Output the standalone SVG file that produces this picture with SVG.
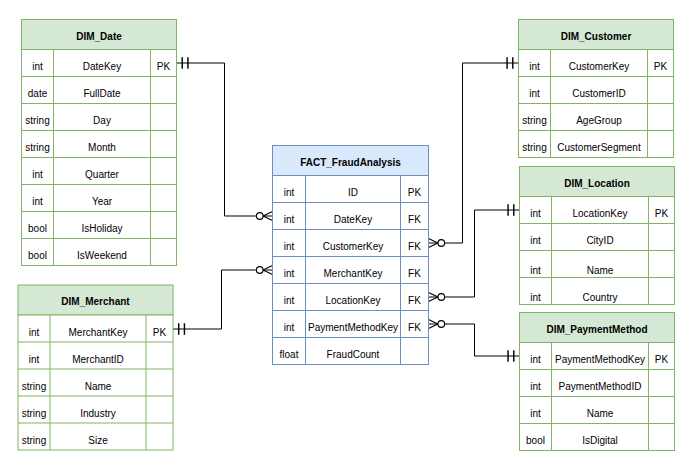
<svg xmlns="http://www.w3.org/2000/svg" width="692" height="469" viewBox="0 0 692 469">
<style>
text{font-family:"Liberation Sans",Arial,Helvetica,sans-serif;font-size:10px;fill:#000;text-anchor:middle}
.h{font-weight:bold}
.gh{fill:#d5e8d4;stroke:#82b366;stroke-width:1}
.gc{fill:#fff;stroke:#82b366;stroke-width:1}
.bh{fill:#dae8fc;stroke:#6c8ebf;stroke-width:1}
.bc{fill:#fff;stroke:#6c8ebf;stroke-width:1}
.gl{stroke:#82b366;stroke-width:1;fill:none}
.bl{stroke:#6c8ebf;stroke-width:1;fill:none}
.edge{fill:none;stroke:#000;stroke-width:1}
</style>
<defs>
<marker id="one" markerUnits="userSpaceOnUse" markerWidth="20" markerHeight="20" refX="0" refY="0" viewBox="-12 -6 14 12" orient="auto-start-reverse" overflow="visible">
<path d="M-4,-4V4M-8,-4V4" stroke="#000" stroke-width="1" fill="none"/>
</marker>
<marker id="many" markerUnits="userSpaceOnUse" markerWidth="20" markerHeight="20" refX="0" refY="0" viewBox="-16 -6 18 12" orient="auto" overflow="visible">
<path d="M0,-4L-8.5,0L0,4" stroke="#000" stroke-width="1" fill="none"/>
<circle cx="-11.5" cy="0" r="3" fill="#fff" stroke="#000" stroke-width="1"/>
</marker>
</defs>

<g id="connectors">
<path class="edge" d="M176.5,63H224.5V216H272.5" marker-start="url(#one)" marker-end="url(#many)"/>
<path class="edge" d="M173,329H221.5V270H272.5" marker-start="url(#one)" marker-end="url(#many)"/>
<path class="edge" d="M518.5,63H462.5V243H428.5" marker-start="url(#one)" marker-end="url(#many)"/>
<path class="edge" d="M519.5,210H474.5V297H428.5" marker-start="url(#one)" marker-end="url(#many)"/>
<path class="edge" d="M519.5,356H474.5V324H428.5" marker-start="url(#one)" marker-end="url(#many)"/>
</g>

<g id="DIM_Date">
<rect class="gh" x="21.5" y="19.5" width="155" height="30"/>
<rect class="gc" x="21.5" y="49.5" width="155" height="216"/>
<path class="gl" d="M21.5,76.5H176.5M21.5,103.5H176.5M21.5,130.5H176.5M21.5,157.5H176.5M21.5,184.5H176.5M21.5,211.5H176.5M21.5,238.5H176.5M53.5,49.5V265.5M150.5,49.5V265.5"/>
<text class="h" x="99" y="39.5">DIM_Date</text>
<text x="37.5" y="70">int</text><text x="102" y="70">DateKey</text><text x="163.5" y="70">PK</text>
<text x="37.5" y="97">date</text><text x="102" y="97">FullDate</text>
<text x="37.5" y="124">string</text><text x="102" y="124">Day</text>
<text x="37.5" y="151">string</text><text x="102" y="151">Month</text>
<text x="37.5" y="178">int</text><text x="102" y="178">Quarter</text>
<text x="37.5" y="205">int</text><text x="102" y="205">Year</text>
<text x="37.5" y="232">bool</text><text x="102" y="232">IsHoliday</text>
<text x="37.5" y="259">bool</text><text x="102" y="259">IsWeekend</text>
</g>

<g id="DIM_Merchant">
<rect class="gh" x="18" y="285" width="155" height="30"/>
<rect class="gc" x="18" y="315" width="155" height="135"/>
<path class="gl" d="M18,342H173M18,369H173M18,396H173M18,423H173M50,315V450M146,315V450"/>
<text class="h" x="95.5" y="305">DIM_Merchant</text>
<text x="34" y="335.5">int</text><text x="98" y="335.5">MerchantKey</text><text x="159.5" y="335.5">PK</text>
<text x="34" y="362.5">int</text><text x="98" y="362.5">MerchantID</text>
<text x="34" y="389.5">string</text><text x="98" y="389.5">Name</text>
<text x="34" y="416.5">string</text><text x="98" y="416.5">Industry</text>
<text x="34" y="443.5">string</text><text x="98" y="443.5">Size</text>
</g>

<g id="FACT_FraudAnalysis">
<rect class="bh" x="272.5" y="145.5" width="156" height="30"/>
<rect class="bc" x="272.5" y="175.5" width="156" height="189"/>
<path class="bl" d="M272.5,202.5H428.5M272.5,229.5H428.5M272.5,256.5H428.5M272.5,283.5H428.5M272.5,310.5H428.5M272.5,337.5H428.5M305.5,175.5V364.5M400.5,175.5V364.5"/>
<text class="h" x="350.5" y="165.5">FACT_FraudAnalysis</text>
<text x="289" y="196">int</text><text x="353" y="196">ID</text><text x="414.5" y="196">PK</text>
<text x="289" y="223">int</text><text x="353" y="223">DateKey</text><text x="414.5" y="223">FK</text>
<text x="289" y="250">int</text><text x="353" y="250">CustomerKey</text><text x="414.5" y="250">FK</text>
<text x="289" y="277">int</text><text x="353" y="277">MerchantKey</text><text x="414.5" y="277">FK</text>
<text x="289" y="304">int</text><text x="353" y="304">LocationKey</text><text x="414.5" y="304">FK</text>
<text x="289" y="331">int</text><text x="353" y="331">PaymentMethodKey</text><text x="414.5" y="331">FK</text>
<text x="289" y="358">float</text><text x="353" y="358">FraudCount</text>
</g>

<g id="DIM_Customer">
<rect class="gh" x="518.5" y="19.5" width="155" height="30"/>
<rect class="gc" x="518.5" y="49.5" width="155" height="108"/>
<path class="gl" d="M518.5,76.5H673.5M518.5,103.5H673.5M518.5,130.5H673.5M550.5,49.5V157.5M647.5,49.5V157.5"/>
<text class="h" x="596" y="39.5">DIM_Customer</text>
<text x="534.5" y="70">int</text><text x="599" y="70">CustomerKey</text><text x="660.5" y="70">PK</text>
<text x="534.5" y="97">int</text><text x="599" y="97">CustomerID</text>
<text x="534.5" y="124">string</text><text x="599" y="124">AgeGroup</text>
<text x="534.5" y="151">string</text><text x="599" y="151">CustomerSegment</text>
</g>

<g id="DIM_Location">
<rect class="gh" x="519.5" y="166.5" width="155" height="30"/>
<rect class="gc" x="519.5" y="196.5" width="155" height="108"/>
<path class="gl" d="M519.5,223.5H674.5M519.5,250.5H674.5M519.5,277.5H674.5M551.5,196.5V304.5M648.5,196.5V304.5"/>
<text class="h" x="597" y="186.5">DIM_Location</text>
<text x="535.5" y="217">int</text><text x="600" y="217">LocationKey</text><text x="661.5" y="217">PK</text>
<text x="535.5" y="244">int</text><text x="600" y="244">CityID</text>
<text x="535.5" y="274">int</text><text x="600" y="274">Name</text>
<text x="535.5" y="301">int</text><text x="600" y="301">Country</text>
</g>

<g id="DIM_PaymentMethod">
<rect class="gh" x="519.5" y="312.5" width="155" height="30"/>
<rect class="gc" x="519.5" y="342.5" width="155" height="108"/>
<path class="gl" d="M519.5,369.5H674.5M519.5,396.5H674.5M519.5,423.5H674.5M551.5,342.5V450.5M648.5,342.5V450.5"/>
<text class="h" x="597" y="332.5">DIM_PaymentMethod</text>
<text x="535.5" y="363">int</text><text x="600" y="363">PaymentMethodKey</text><text x="661.5" y="363">PK</text>
<text x="535.5" y="390">int</text><text x="600" y="390">PaymentMethodID</text>
<text x="535.5" y="417">int</text><text x="600" y="417">Name</text>
<text x="535.5" y="444">bool</text><text x="600" y="444">IsDigital</text>
</g>
</svg>
